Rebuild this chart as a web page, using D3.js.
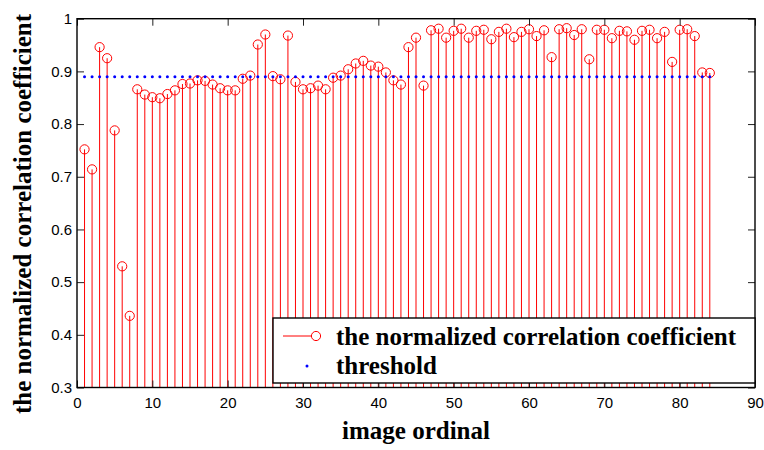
<!DOCTYPE html>
<html>
<head>
<meta charset="utf-8">
<script src="https://cdn.jsdelivr.net/npm/d3@7"></script>
<style>
  body { margin: 0; background: #fff; }
  .tick text { font-family: "Liberation Sans", Arial, sans-serif; font-size: 15px; fill: #000; }
  .tick line { stroke: #222; }
  .lbl { font-family: "Liberation Serif", "Times New Roman", serif; font-weight: bold; font-size: 25px; fill: #000; }
</style>
</head>
<body>
<div id="chart"></div>
<script>
// normalized correlation coefficient per image
var values = [0.752, 0.714, 0.946, 0.925, 0.788, 0.530, 0.436, 0.866, 0.856, 0.851,
              0.849, 0.857, 0.864, 0.876, 0.877, 0.883, 0.882, 0.875, 0.868, 0.864,
              0.864, 0.886, 0.892, 0.951, 0.970, 0.891, 0.885, 0.968, 0.880, 0.866,
              0.868, 0.873, 0.866, 0.888, 0.892, 0.904, 0.915, 0.920, 0.911, 0.909,
              0.898, 0.883, 0.875, 0.946, 0.964, 0.873, 0.978, 0.981, 0.964, 0.977,
              0.981, 0.964, 0.977, 0.979, 0.961, 0.975, 0.981, 0.965, 0.975, 0.980,
              0.967, 0.978, 0.927, 0.980, 0.982, 0.969, 0.980, 0.923, 0.979, 0.979,
              0.963, 0.977, 0.976, 0.960, 0.977, 0.979, 0.963, 0.975, 0.918, 0.979,
              0.980, 0.967, 0.898, 0.897];
var threshold = 0.89;
var xTicks = [0, 10, 20, 30, 40, 50, 60, 70, 80, 90];
var yTicks = [0.3, 0.4, 0.5, 0.6, 0.7, 0.8, 0.9, 1];
var legendLabels = ["the normalized correlation coefficient", "threshold"];

var plotLeft = 77, plotRight = 755, plotTop = 18.7, plotBottom = 387.5;

var svg = d3.select("#chart").append("svg")
    .attr("width", 764)
    .attr("height", 450);

var x = d3.scaleLinear().domain([0, 90]).range([plotLeft, plotRight]);
var y = d3.scaleLinear().domain([0.3, 1]).range([plotBottom, plotTop]);

var data = values.map(function(v, i) { return {i: i + 1, v: v}; });

// stems
svg.append("g").selectAll("line")
    .data(data)
    .enter().append("line")
    .attr("x1", function(d) { return x(d.i); })
    .attr("x2", function(d) { return x(d.i); })
    .attr("y1", y(0.3))
    .attr("y2", function(d) { return y(d.v); })
    .attr("stroke", "#ff0000")
    .attr("stroke-width", 1);

// markers
svg.append("g").selectAll("circle")
    .data(data)
    .enter().append("circle")
    .attr("cx", function(d) { return x(d.i); })
    .attr("cy", function(d) { return y(d.v); })
    .attr("r", 4.6)
    .attr("fill", "none")
    .attr("stroke", "#ff0000")
    .attr("stroke-width", 1);

// threshold dots
svg.append("g").selectAll("circle")
    .data(data)
    .enter().append("circle")
    .attr("cx", function(d) { return x(d.i); })
    .attr("cy", y(threshold))
    .attr("r", 1.5)
    .attr("fill", "#0000ff");

// axes, ticks pointing inward
var fmtY = function(d) { return d === 1 ? "1" : d.toFixed(1); };
svg.append("g")
    .attr("transform", "translate(0," + plotBottom + ")")
    .call(d3.axisBottom(x).tickValues(xTicks).tickSize(-7).tickPadding(10))
    .call(function(g) { g.select(".domain").remove(); });
svg.append("g")
    .attr("transform", "translate(0," + plotTop + ")")
    .call(d3.axisTop(x).tickValues(xTicks).tickSize(-7).tickFormat(""))
    .call(function(g) { g.select(".domain").remove(); });
svg.append("g")
    .attr("transform", "translate(" + plotLeft + ",0)")
    .call(d3.axisLeft(y).tickValues(yTicks).tickSize(-7).tickPadding(5).tickFormat(fmtY))
    .call(function(g) { g.select(".domain").remove(); });
svg.append("g")
    .attr("transform", "translate(" + plotRight + ",0)")
    .call(d3.axisRight(y).tickValues(yTicks).tickSize(-7).tickFormat(""))
    .call(function(g) { g.select(".domain").remove(); });

svg.append("rect")
    .attr("x", plotLeft).attr("y", plotTop)
    .attr("width", plotRight - plotLeft).attr("height", plotBottom - plotTop)
    .attr("fill", "none")
    .attr("stroke", "#000")
    .attr("stroke-width", 1.4);

// legend
var lg = svg.append("g");
lg.append("rect")
    .attr("x", 273).attr("y", 318)
    .attr("width", 482).attr("height", 65)
    .attr("fill", "#fff")
    .attr("stroke", "#000")
    .attr("stroke-width", 1.4);
lg.append("line")
    .attr("x1", 283).attr("x2", 312)
    .attr("y1", 336).attr("y2", 336)
    .attr("stroke", "#ff0000");
lg.append("circle")
    .attr("cx", 316).attr("cy", 336).attr("r", 4.6)
    .attr("fill", "none").attr("stroke", "#ff0000");
lg.append("circle")
    .attr("cx", 307).attr("cy", 366).attr("r", 1.5)
    .attr("fill", "#0000ff");
lg.selectAll("text.leg")
    .data(legendLabels)
    .enter().append("text")
    .attr("class", "lbl leg")
    .attr("x", 336)
    .attr("y", function(d, i) { return 345 + i * 29; })
    .text(function(d) { return d; });

// axis labels
svg.append("text")
    .attr("class", "lbl")
    .attr("text-anchor", "middle")
    .attr("x", (plotLeft + plotRight) / 2)
    .attr("y", 439)
    .text("image ordinal");

svg.append("text")
    .attr("class", "lbl")
    .attr("text-anchor", "middle")
    .attr("transform", "translate(31,214) rotate(-90)")
    .text("the normalized correlation coefficient");
</script>
</body>
</html>
